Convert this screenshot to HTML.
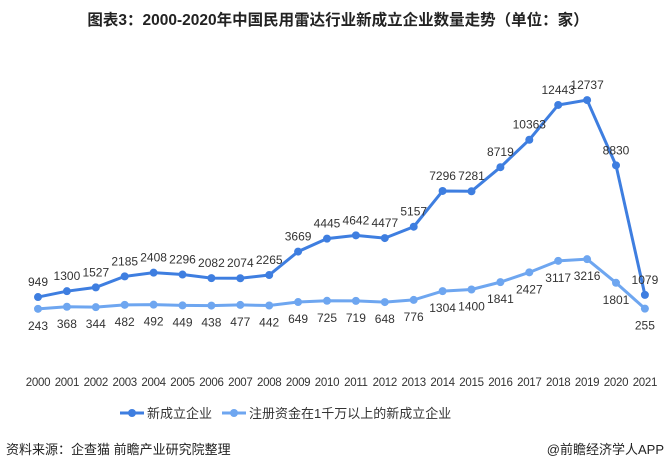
<!DOCTYPE html>
<html><head><meta charset="utf-8"><style>
body{margin:0;background:#fff;width:668px;height:469px;overflow:hidden;font-family:"Liberation Sans","Noto Sans CJK SC",sans-serif}
svg{display:block}
</style></head><body>
<svg width="668" height="469">
<text x="338" y="25" text-anchor="middle" font-size="15.5" font-weight="bold" fill="#222">图表3：2000-2020年中国民用雷达行业新成立企业数量走势（单位：家）</text>
<g id="plot"></g>
<g id="legend">
<g><line x1="120" y1="413" x2="144" y2="413" stroke="#3e7ee0" stroke-width="3"/><circle cx="132" cy="413" r="4" fill="#3e7ee0"/><text x="147" y="418" font-size="13" fill="#333">新成立企业</text></g>
<g><line x1="222" y1="413" x2="246" y2="413" stroke="#6ea6f0" stroke-width="3"/><circle cx="234" cy="413" r="4" fill="#6ea6f0"/><text x="249" y="418" font-size="13" fill="#333">注册资金在1千万以上的新成立企业</text></g>
</g>
<text x="6" y="454" font-size="13" fill="#222">资料来源：企查猫 前瞻产业研究院整理</text>
<text x="664" y="454" text-anchor="end" font-size="13" fill="#222">@前瞻经济学人APP</text>
</svg>
<script>
const years=["2000","2001","2002","2003","2004","2005","2006","2007","2008","2009","2010","2011","2012","2013","2014","2015","2016","2017","2018","2019","2020","2021"];
const newCompanies=[949,1300,1527,2185,2408,2296,2082,2074,2265,3669,4445,4642,4477,5157,7296,7281,8719,10363,12443,12737,8830,1079];
const bigCompanies=[243,368,344,482,492,449,438,477,442,649,725,719,648,776,1304,1400,1841,2427,3117,3216,1801,255];
const NS="http://www.w3.org/2000/svg";
const g=document.getElementById('plot');
const x=i=>38+i*28.9;
const y=v=>312.9-v*0.01671;
function mk(t,a){const e=document.createElementNS(NS,t);for(const k in a)e.setAttribute(k,a[k]);g.appendChild(e);return e;}
years.forEach((yr,i)=>{const t=mk('text',{x:x(i),y:386,'text-anchor':'middle','font-size':'11.5','letter-spacing':'-0.3',fill:'#333'});t.textContent=yr;

});
function series(vals,color,name,off){
const p=mk('polyline',{points:vals.map((v,i)=>x(i)+','+y(v)).join(' '),fill:'none',stroke:color,'stroke-width':3});


vals.forEach((v,i)=>{const c=mk('circle',{cx:x(i),cy:y(v),r:4,fill:color});


const t=mk('text',{x:x(i),y:y(v)+off,'text-anchor':'middle','font-size':'12',fill:'#333'});t.textContent=v;

});
}
series(bigCompanies,'#6ea6f0','over-10m-capital',21);
series(newCompanies,'#3e7ee0','new-companies',-11);
</script>
</body></html>
